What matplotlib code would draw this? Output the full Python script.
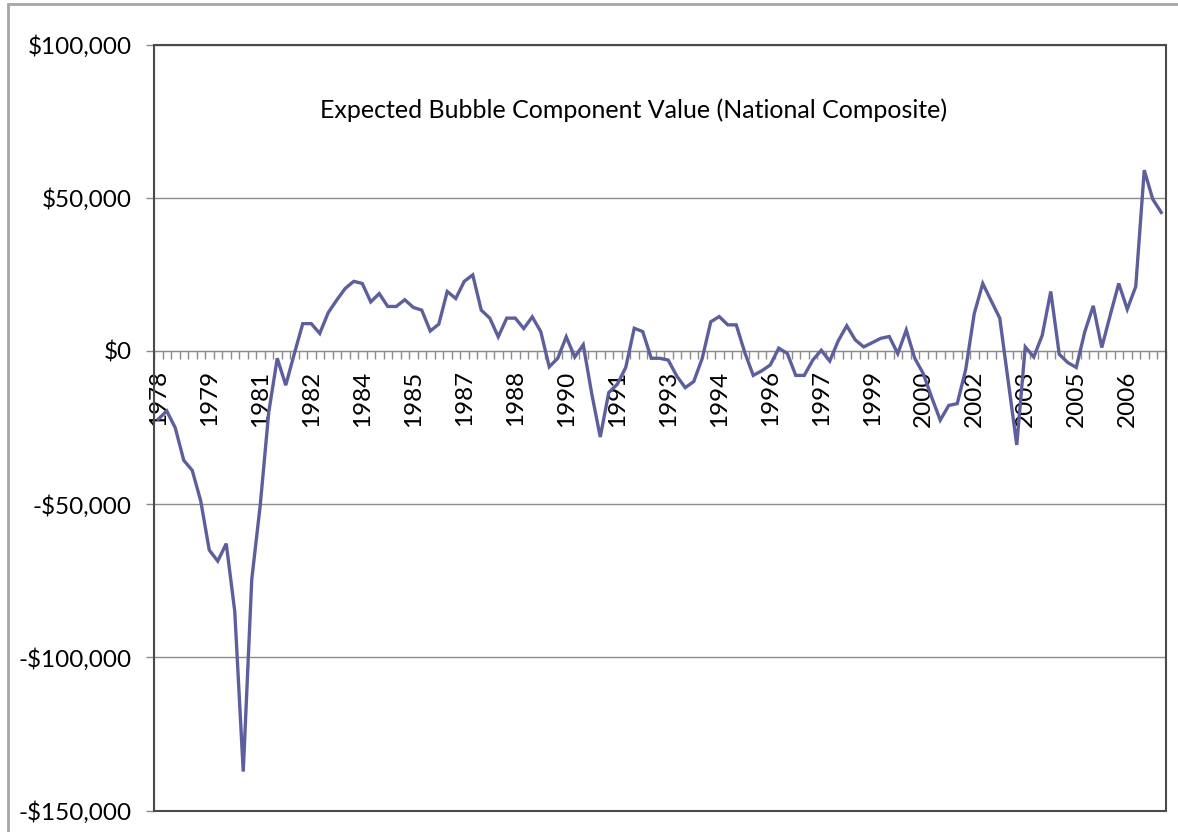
import matplotlib
matplotlib.use("Agg")
import matplotlib.pyplot as plt
import numpy as np
from matplotlib.patches import Rectangle
from matplotlib.ticker import FuncFormatter

plt.rcParams['font.family'] = ['Lato', 'DejaVu Sans']

# quarterly values, 1978 Q1 onwards (thousand dollars)
bubble_k = [-22.3, -19.6, -25.1, -35.7, -39.0, -49.0, -65.0, -68.6, -62.9, -85.0,
            -137.3, -74.6, -50.3, -20.0, -2.4, -11.2, -1.0, 8.9, 8.9, 5.7,
            12.5, 16.6, 20.4, 22.7, 22.0, 16.0, 18.7, 14.5, 14.5, 16.7,
            14.2, 13.3, 6.5, 8.7, 19.4, 17.1, 22.7, 24.8, 13.3, 10.7,
            4.6, 10.7, 10.7, 7.3, 11.1, 6.3, -5.2, -2.4, 4.6, -2.0,
            2.0, -14.0, -28.1, -13.6, -10.9, -5.4, 7.4, 6.3, -2.4, -2.4,
            -3.0, -8.2, -12.0, -10.0, -2.4, 9.5, 11.2, 8.5, 8.5, -0.5,
            -8.0, -6.5, -4.6, 0.9, -0.8, -8.0, -8.0, -3.0, 0.2, -3.3,
            3.3, 8.2, 3.6, 1.3, 2.7, 4.1, 4.7, -0.9, 6.8, -2.4,
            -7.4, -15.2, -22.6, -17.8, -17.2, -6.0, 12.2, 22.0, 16.3, 10.7,
            -10.0, -30.7, 1.3, -2.0, 5.1, 19.4, -1.1, -3.8, -5.4, 6.2,
            14.7, 1.1, 11.7, 22.0, 13.6, 21.0, 59.0, 49.5, 45.2]
bubble = np.array(bubble_k) * 1000

year_labels = ['1978', '1979', '1981', '1982', '1984', '1985', '1987', '1988',
               '1990', '1991', '1993', '1994', '1996', '1997', '1999', '2000',
               '2002', '2003', '2005', '2006']
label_every = 6
y_ticks = [-150000, -100000, -50000, 0, 50000, 100000]
title = 'Expected Bubble Component Value (National Composite)'

W, H = 1178, 832
fig = plt.figure(figsize=(W / 100, H / 100), dpi=100)
ax = fig.add_axes([154 / W, 1 - 810.5 / H, (1165.5 - 154) / W, (810.5 - 44.5) / H])

x = np.arange(len(bubble))
ax.plot(x, bubble, color='#5d5f9c', lw=2.4, solid_joinstyle='miter', zorder=3)

ax.set_xlim(-0.5, len(bubble) - 0.5)
ax.set_ylim(-150000, 100000)

# y axis
ax.set_yticks(y_ticks)
def money(v, pos):
    if v == 0:
        return '$0'
    s = '${:,.0f}'.format(abs(v))
    return '-' + s if v < 0 else s
ax.yaxis.set_major_formatter(FuncFormatter(money))
ax.tick_params(axis='y', length=6, width=1, color='#8c8c8c', pad=10,
               labelsize=17.5)
ax.grid(axis='y', color='#8c8c8c', lw=1)
ax.set_axisbelow(True)

# category axis crossing at zero
ax.spines['bottom'].set_position(('data', 0))
ax.spines['bottom'].set_color('#8c8c8c')
ax.spines['left'].set_color('#8c8c8c')
ax.spines['top'].set_visible(False)
ax.spines['right'].set_visible(False)
ax.set_xticks(x[::label_every])
ax.set_xticklabels(year_labels, rotation=90)
ax.set_xticks(np.arange(-0.5, len(bubble), 1), minor=True)
ax.tick_params(axis='x', which='major', length=0, pad=14, labelsize=17.5)
ax.tick_params(axis='x', which='minor', length=6, width=1, color='#8c8c8c')
for lab in ax.get_xticklabels():
    lab.set_verticalalignment('top')

# plot area frame
ax.add_patch(Rectangle((0, 0), 1, 1, transform=ax.transAxes, fill=False,
                       edgecolor='#4a4a4a', lw=1.5, clip_on=False, zorder=4))

# outer chart border
fig.patches.append(Rectangle((8 / W, -0.1), 1.2, 1.1 - 4.5 / H,
                             transform=fig.transFigure, fill=False,
                             edgecolor='#a6a6a6', lw=2))

fig.text(634 / W, 1 - 110 / H, title, ha='center', va='center', fontsize=18)

fig.savefig('out.png', dpi=100)
